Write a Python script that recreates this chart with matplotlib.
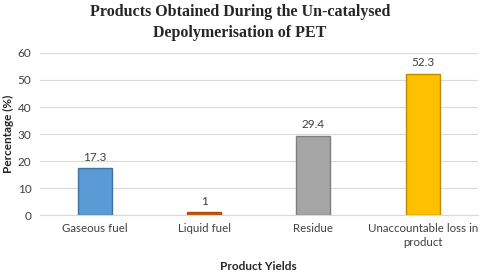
import matplotlib
matplotlib.use("Agg")
import matplotlib.pyplot as plt
import numpy as np

categories = ["Gaseous fuel", "Liquid fuel", "Residue", "Unaccountable loss in\nproduct"]
values = [17.3, 1, 29.4, 52.3]
labels = ["17.3", "1", "29.4", "52.3"]
colors = ["#5B9BD5", "#C55A11", "#A5A5A5", "#FFC000"]
edges = ["#41719C", "#AE4A0A", "#7F7F7F", "#BC8C00"]

plt.rcParams['font.family'] = ['Lato', 'DejaVu Sans']

fig = plt.figure(figsize=(4.8, 2.73), dpi=100)
ax = fig.add_axes([0.083, 0.212, 0.912, 0.594])

x = np.arange(len(categories))
ax.bar(x, values, width=0.31, color=colors, edgecolor=edges, linewidth=1.0, zorder=3)
for xi, v, lab in zip(x, values, labels):
    ax.text(xi, v + 2, lab, ha="center", va="bottom", fontsize=8.5, color="#404040")

ax.set_xlim(-0.5, 3.5)
ax.set_ylim(0, 60)
ax.set_yticks(range(0, 61, 10))
ax.yaxis.grid(True, color="#D9D9D9", linewidth=0.8, zorder=0)
ax.set_xticks(x)
ax.set_xticklabels(categories, fontsize=8.3, color="#404040", linespacing=1.3)
ax.tick_params(axis="y", labelsize=8.5, labelcolor="#404040", length=0, pad=6)
ax.tick_params(axis="x", length=0, pad=6)
for s in ["top", "right", "left"]:
    ax.spines[s].set_visible(False)
ax.spines["bottom"].set_color("#D9D9D9")

ax.set_ylabel("Percentage (%)", fontsize=8.5, fontweight="bold", color="#262626", labelpad=3)
ax.set_xlabel("Product Yields", fontsize=8.5, fontweight="bold", color="#262626", labelpad=9)

fig.text(0.5, 0.985, "Products Obtained During the Un-catalysed\nDepolymerisation of PET",
         ha="center", va="top", fontsize=11.5, fontweight="bold",
         family=["Liberation Serif", "DejaVu Serif"], color="#262626", linespacing=1.45)

fig.savefig("out.png", dpi=100)
